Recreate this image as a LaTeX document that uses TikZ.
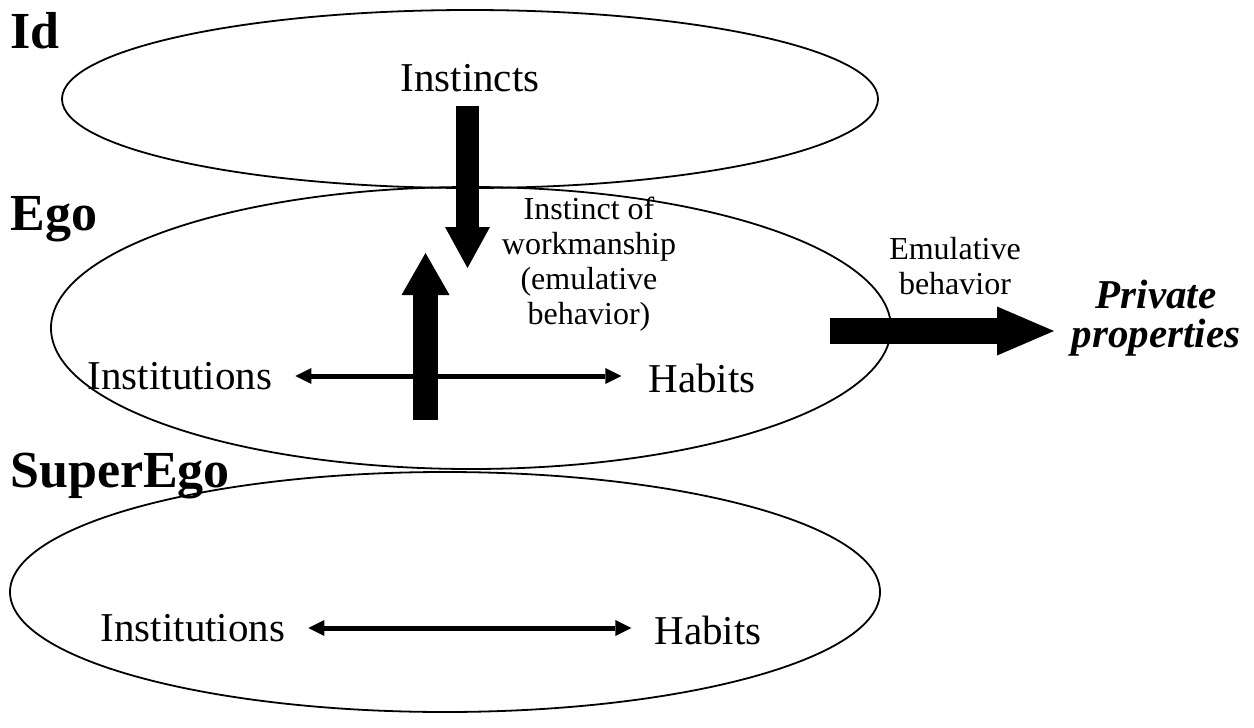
\documentclass[tikz,border=0pt]{standalone}
\usepackage{fontspec}
\setmainfont{Liberation Serif}
\usetikzlibrary{shapes.geometric,arrows.meta}
\begin{document}
\begin{tikzpicture}[
		x=0.5pt, y=-0.5pt,
		layer/.style={ellipse,draw,line width=0.9pt,inner sep=0pt},
		lbl/.style={font=\fontsize{20.5}{24}\selectfont},
		note/.style={align=center,font=\fontsize{16}{17.5}\selectfont},
		title/.style={font=\fontsize{26}{30}\selectfont\bfseries,anchor=base west,inner sep=0pt},
		fat/.style n args={3}{line width=#1,-{Triangle[line width=0pt,length=#2,width=#3]}},
		dbl/.style={line width=2.5pt,{Triangle[line width=0pt,length=8pt,width=8pt]}-{Triangle[line width=0pt,length=8pt,width=8pt]}}
	]
	\useasboundingbox (0,0) rectangle (1254,728);
	% the three layers
	\node[layer,minimum width=408pt,minimum height=89pt] (id) at (470,99) {};
	\node[layer,minimum width=420pt,minimum height=141pt] (ego) at (471,328) {};
	\node[layer,minimum width=435pt,minimum height=120pt] (superego) at (445,592) {};
	\node[title] (idlbl) at (10,48) {Id};
	\node[title] (egolbl) at (10,230) {Ego};
	\node[title] (superegolbl) at (10,487) {SuperEgo};
	% texts
	\node[lbl] (instincts) at (470,78) {Instincts};
	\node[note] (workmanship) at (589,264) {Instinct of\\workmanship\\(emulative\\behavior)};
	\node[note] (emulative) at (955,266) {Emulative\\behavior};
	\node[align=center,font=\fontsize{20.5}{19.5}\selectfont\bfseries\itshape] (props) at (1156,318) {Private\\properties};
	\node[lbl] (inst1) at (180,376) {Institutions};
	\node[lbl] (hab1) at (702,378) {Habits};
	\node[lbl] (inst2) at (193,628) {Institutions};
	\node[lbl] (hab2) at (708,630) {Habits};
	% block arrows
	\coordinate (downtop) at (467.5,106);
	\coordinate (downtip) at (467.5,268);
	\coordinate (upfoot) at (425.5,420);
	\coordinate (uptip) at (425.5,253);
	\coordinate (emustart) at (830,331);
	\coordinate (emutip) at (1054,331);
	\draw[fat={11.5pt}{20.5pt}{22.5pt}] (downtop) -- (downtip);
	\draw[dbl,shorten <=8pt,shorten >=10pt] (inst1.east) -- (inst1.east -| hab1.west);
	\draw[fat={12.5pt}{21pt}{24pt}] (upfoot) -- (uptip);
	\draw[fat={13pt}{28.5pt}{24.5pt}] (emustart) -- (emutip);
	\draw[dbl,shorten <=8pt,shorten >=8pt] (inst2.east) -- (inst2.east -| hab2.west);
\end{tikzpicture}
\end{document}
